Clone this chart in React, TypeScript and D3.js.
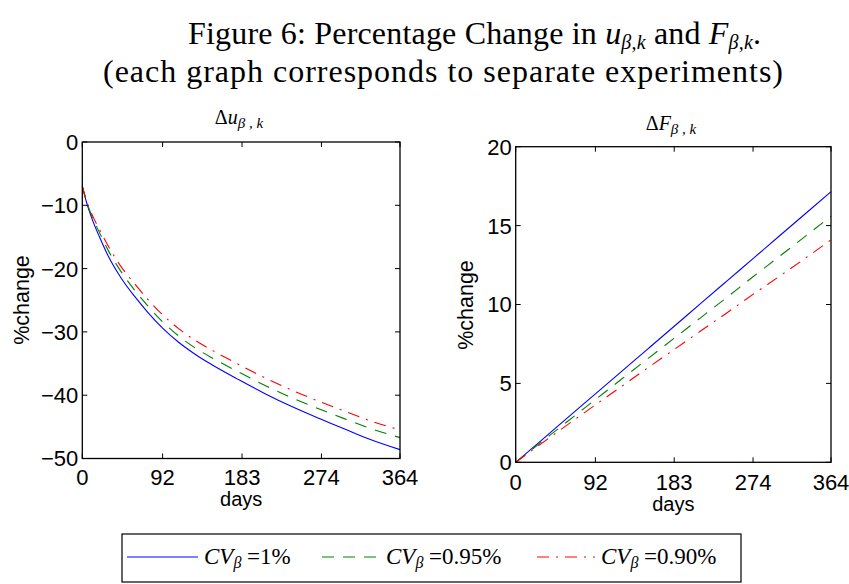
import React from "react";
import * as d3 from "d3";

// ---------- data ----------
const daysU = [0, 5, 10, 20, 30, 45, 60, 75, 92, 110, 130, 150, 180, 210, 240, 270, 300, 330, 364];
const blueU = [-7.0, -9.6, -11.7, -15.1, -18.1, -21.6, -24.4, -26.9, -29.4, -31.6, -33.6, -35.3, -37.6, -39.8, -41.8, -43.6, -45.3, -47.0, -48.6];
const greenU = [-7.0, -9.45, -11.4, -14.4, -17.2, -20.6, -23.4, -25.9, -28.4, -30.6, -32.6, -34.2, -36.4, -38.5, -40.4, -42.1, -43.7, -45.25, -46.7];
const redU = [-7.0, -9.3, -11.1, -13.9, -16.5, -19.8, -22.4, -24.85, -27.3, -29.45, -31.4, -33.0, -35.2, -37.3, -39.2, -40.9, -42.5, -44.05, -45.5];

const daysF = [0, 30, 60, 91, 122, 152, 183, 213, 244, 274, 305, 335, 364];
const blueF = [0, 1.41, 2.83, 4.29, 5.75, 7.16, 8.62, 10.04, 11.5, 12.91, 14.37, 15.78, 17.15];
const greenF = [0, 1.3, 2.6, 3.93, 5.26, 6.54, 7.86, 9.14, 10.46, 11.76, 13.07, 14.35, 15.6];
const redF = [0, 1.2, 2.39, 3.6, 4.8, 5.97, 7.15, 8.3, 9.48, 10.64, 11.81, 12.96, 14.1];

const xTicks = [0, 92, 183, 274, 364];
const yTicksU = [0, -10, -20, -30, -40, -50];
const yTicksF = [0, 5, 10, 15, 20];

const seriesNames = ["1%", "0.95%", "0.90%"];

// ---------- styles ----------
const COLORS = ["#0000ff", "#008000", "#ff0000"];
const DASHES = ["none", "12,9", "12,7,2,7"];
const SANS = "'Liberation Sans', Arial, Helvetica, sans-serif";
const SERIF = "'Liberation Serif', 'Times New Roman', serif";

type PanelProps = {
  x0: number; x1: number; y0: number; y1: number;
  yDomain: [number, number];
  yTicks: number[];
  days: number[];
  series: number[][];
  title: React.ReactNode;
  titleX: number; titleY: number;
  ylabelX: number; ylabelY: number;
  xlabelY: number; xtickY: number;
};

function Panel(p: PanelProps) {
  const x = d3.scaleLinear().domain([0, 364]).range([p.x0, p.x1]);
  const y = d3.scaleLinear().domain(p.yDomain).range([p.y1, p.y0]);
  const line = d3
    .line<[number, number]>()
    .x((d) => x(d[0]))
    .y((d) => y(d[1]))
    .curve(d3.curveMonotoneX);
  const tl = 5;
  const fmt = (v: number) => (v < 0 ? "\u2212" + Math.abs(v) : String(v));
  return (
    <g>
      {p.series.map((vals, i) => (
        <path
          key={i}
          d={line(p.days.map((d, j) => [d, vals[j]] as [number, number])) || ""}
          fill="none"
          stroke={COLORS[i]}
          strokeWidth={1.1}
          strokeDasharray={DASHES[i]}
        />
      ))}
      <rect x={p.x0} y={p.y0} width={p.x1 - p.x0} height={p.y1 - p.y0} fill="none" stroke="#000" strokeWidth={1.3} />
      {xTicks.map((t) => (
        <g key={"x" + t}>
          <line x1={x(t)} x2={x(t)} y1={p.y1} y2={p.y1 - tl} stroke="#000" strokeWidth={1} />
          <line x1={x(t)} x2={x(t)} y1={p.y0} y2={p.y0 + tl} stroke="#000" strokeWidth={1} />
          <text x={x(t)} y={p.xtickY} textAnchor="middle" fontFamily={SANS} fontSize={22} fill="#000">
            {t}
          </text>
        </g>
      ))}
      {p.yTicks.map((t) => (
        <g key={"y" + t}>
          <line x1={p.x0} x2={p.x0 + tl} y1={y(t)} y2={y(t)} stroke="#000" strokeWidth={1} />
          <line x1={p.x1} x2={p.x1 - tl} y1={y(t)} y2={y(t)} stroke="#000" strokeWidth={1} />
          <text x={p.x0 - 4} y={y(t)} dy="0.36em" textAnchor="end" fontFamily={SANS} fontSize={22} fill="#000">
            {fmt(t)}
          </text>
        </g>
      ))}
      <text x={(p.x0 + p.x1) / 2} y={p.xlabelY} textAnchor="middle" fontFamily={SANS} fontSize={20} fill="#000">
        days
      </text>
      <text
        transform={`translate(${p.ylabelX},${p.ylabelY}) rotate(-90)`}
        textAnchor="middle"
        fontFamily={SANS}
        fontSize={21.5}
        fill="#000"
      >
        %change
      </text>
      <text x={p.titleX} y={p.titleY} textAnchor="middle" fontFamily={SERIF} fontSize={20} fill="#000">
        {p.title}
      </text>
    </g>
  );
}

export default function App() {
  const legendY = 557;
  const entries = [
    { lx0: 127, lx1: 198, tx: 204 },
    { lx0: 322, lx1: 380, tx: 386 },
    { lx0: 537, lx1: 595, tx: 601 },
  ];
  return (
    <svg
      width={849}
      height={584}
      viewBox="0 0 849 584"
      style={{ position: "absolute", left: 0, top: 0, background: "#fff" }}
    >
      <rect x={0} y={0} width={849} height={584} fill="#fff" />
      {/* figure title */}
      <text x={188} y={44} textLength={573} lengthAdjust="spacing" fontFamily={SERIF} fontSize={32} fill="#000">
        Figure 6: Percentage Change in <tspan fontStyle="italic">u</tspan>
        <tspan fontSize={20} fontStyle="italic" dy={5}>β,k</tspan>
        <tspan dy={-5}> and </tspan>
        <tspan fontStyle="italic">F</tspan>
        <tspan fontSize={20} fontStyle="italic" dy={5}>β,k</tspan>
        <tspan dy={-5}>.</tspan>
      </text>
      <text x={103} y={82} textLength={680} lengthAdjust="spacing" fontFamily={SERIF} fontSize={32} fill="#000">
        (each graph corresponds to separate experiments)
      </text>

      <Panel
        x0={82.3} x1={400} y0={142} y1={458.5}
        yDomain={[-50, 0]} yTicks={yTicksU}
        days={daysU} series={[blueU, greenU, redU]}
        title={
          <>
            <tspan>Δ</tspan>
            <tspan fontStyle="italic">u</tspan>
            <tspan fontSize={15} fontStyle="italic" dy={4}>β , k</tspan>
          </>
        }
        titleX={239} titleY={124}
        ylabelX={29} ylabelY={300}
        xlabelY={506} xtickY={485}
      />
      <Panel
        x0={515.7} x1={831} y0={146.7} y1={462.3}
        yDomain={[0, 20]} yTicks={yTicksF}
        days={daysF} series={[blueF, greenF, redF]}
        title={
          <>
            <tspan>Δ</tspan>
            <tspan fontStyle="italic">F</tspan>
            <tspan fontSize={15} fontStyle="italic" dy={4}>β , k</tspan>
          </>
        }
        titleX={671} titleY={130}
        ylabelX={473} ylabelY={305}
        xlabelY={511} xtickY={490}
      />

      {/* legend */}
      <rect x={122} y={534} width={619} height={48} fill="#fff" stroke="#000" strokeWidth={1.2} />
      {entries.map((e, i) => (
        <g key={i}>
          <line x1={e.lx0} x2={e.lx1} y1={legendY} y2={legendY} stroke={COLORS[i]} strokeWidth={1.1} strokeDasharray={DASHES[i]} />
          <text x={e.tx} y={legendY + 7} fontFamily={SERIF} fontSize={23} fill="#000">
            <tspan fontStyle="italic">CV</tspan>
            <tspan fontSize={16} fontStyle="italic" dy={4}>β</tspan>
            <tspan dy={-4}> ={seriesNames[i]}</tspan>
          </text>
        </g>
      ))}
    </svg>
  );
}
